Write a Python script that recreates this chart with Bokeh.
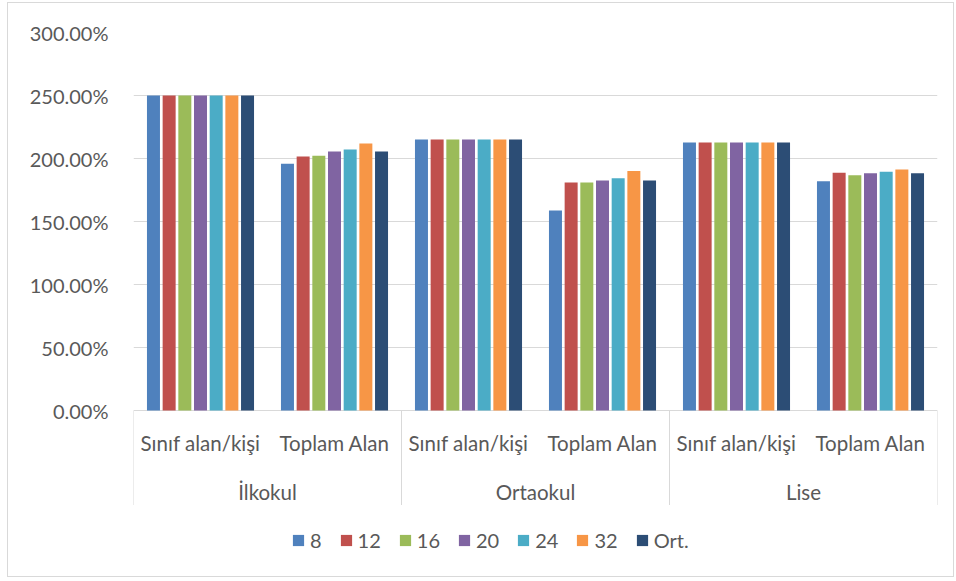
from bokeh.plotting import figure
from bokeh.models import (ColumnDataSource, FactorRange, Range1d, FixedTicker,
                          PrintfTickFormatter, Legend, LegendItem)
from bokeh.transform import dodge
from bokeh.core.properties import value
from bokeh.embed import file_html
from bokeh.resources import INLINE

# ---- data ----
groups = ["İlkokul", "Ortaokul", "Lise"]
subcats = ["Sınıf alan/kişi", "Toplam Alan"]
series_names = ["8", "12", "16", "20", "24", "32", "Ort."]
colors = ["#4F81BD", "#C0504D", "#9BBB59", "#8064A2", "#4BACC6", "#F79646", "#2C4D75"]

s8 = [250.0, 195.8, 215.0, 158.7, 212.7, 182.0]
s12 = [250.0, 201.6, 215.0, 181.0, 212.7, 188.6]
s16 = [250.0, 202.1, 215.0, 181.0, 212.7, 186.8]
s20 = [250.0, 205.6, 215.0, 182.5, 212.7, 188.3]
s24 = [250.0, 207.1, 215.0, 184.4, 212.7, 189.4]
s32 = [250.0, 211.9, 215.0, 190.0, 212.7, 191.3]
sOrt = [250.0, 205.6, 215.0, 182.5, 212.7, 188.3]
series_values = [s8, s12, s16, s20, s24, s32, sOrt]

y_ticks = [0, 50, 100, 150, 200, 250, 300]

FONT = "Lato"
TXT = "#595959"
GRID = "#D9D9D9"

factors = [(g, s) for g in groups for s in subcats]
data = {"x": factors}
for name, vals in zip(series_names, series_values):
    data["s" + name] = vals
source = ColumnDataSource(data)

W, H = 947, 575
top_b, bot_b, left_b, right_b = 29, 2, 125, 18
px_per_unit = 1.26
frame_h = H - top_b - bot_b
y_end = 300.0
y_start = y_end - frame_h / px_per_unit

p = figure(width=W, height=H, output_backend="svg", toolbar_location=None,
           x_range=FactorRange(*factors, factor_padding=0, group_padding=0,
                               range_padding=0),
           y_range=Range1d(y_start, y_end),
           min_border_top=top_b, min_border_bottom=bot_b,
           min_border_left=left_b, min_border_right=right_b)
p.outline_line_color = None
p.background_fill_color = "white"
p.border_fill_color = "white"
p.styles = {"border": "1px solid #D9D9D9", "margin-left": "7px", "margin-top": "2px"}

p.xaxis.visible = False
p.xgrid.grid_line_color = None
p.ygrid.ticker = FixedTicker(ticks=y_ticks)
p.ygrid.grid_line_color = GRID
p.ygrid.grid_line_width = 1

ya = p.yaxis[0]
ya.ticker = FixedTicker(ticks=y_ticks)
ya.formatter = PrintfTickFormatter(format="%.2f%%")
ya.axis_line_color = None
ya.major_tick_line_color = None
ya.minor_tick_line_color = None
ya.major_tick_in = 0
ya.major_tick_out = 0
ya.major_label_standoff = 25
ya.major_label_text_font = FONT
ya.major_label_text_font_size = "20px"
ya.major_label_text_color = TXT

pitch = 0.117
bw = 0.097
items = []
for i, (name, col) in enumerate(zip(series_names, colors)):
    off = (i - 3) * pitch
    r = p.vbar(x=dodge("x", off, range=p.x_range), top="s" + name, width=bw,
               source=source, fill_color=col, line_color=None)
    items.append(LegendItem(label=name, renderers=[r]))

# separators of category axis
first_sub = [(g, subcats[0]) for g in groups]
last_sub = [(g, subcats[-1]) for g in groups]
sep_src = ColumnDataSource(dict(a=first_sub, b=last_sub, y0=[0] * 3, y1=[-75] * 3))
p.segment(x0=dodge("a", -0.5, range=p.x_range), x1=dodge("a", -0.5, range=p.x_range),
          y0="y0", y1="y1", source=sep_src, line_color=GRID, line_width=1)
p.segment(x0=dodge("b", 0.5, range=p.x_range), x1=dodge("b", 0.5, range=p.x_range),
          y0="y0", y1="y1", source=sep_src, line_color=GRID, line_width=1)

# category labels
lab_src = ColumnDataSource(dict(x=factors, y=[-25.4] * len(factors),
                                t=[s for _, s in factors]))
p.text(x="x", y="y", text="t", source=lab_src, text_font=value(FONT),
       text_font_size="20.5px", text_color=TXT, text_align="center",
       text_baseline="middle")
grp_src = ColumnDataSource(dict(x=groups, y=[-64.3] * len(groups), t=groups))
p.text(x="x", y="y", text="t", source=grp_src, text_font=value(FONT),
       text_font_size="20.5px", text_color=TXT, text_align="center",
       text_baseline="middle")

legend = Legend(items=items, orientation="horizontal", location=(158, 24),
                padding=0, margin=0, spacing=17, label_standoff=5,
                glyph_width=14, glyph_height=14, label_height=14, label_width=0,
                border_line_color=None, background_fill_alpha=0,
                label_text_font=FONT, label_text_font_size="20px",
                label_text_color=TXT)
p.add_layout(legend, "center")

open("out.html", "w").write(file_html(p, INLINE))
